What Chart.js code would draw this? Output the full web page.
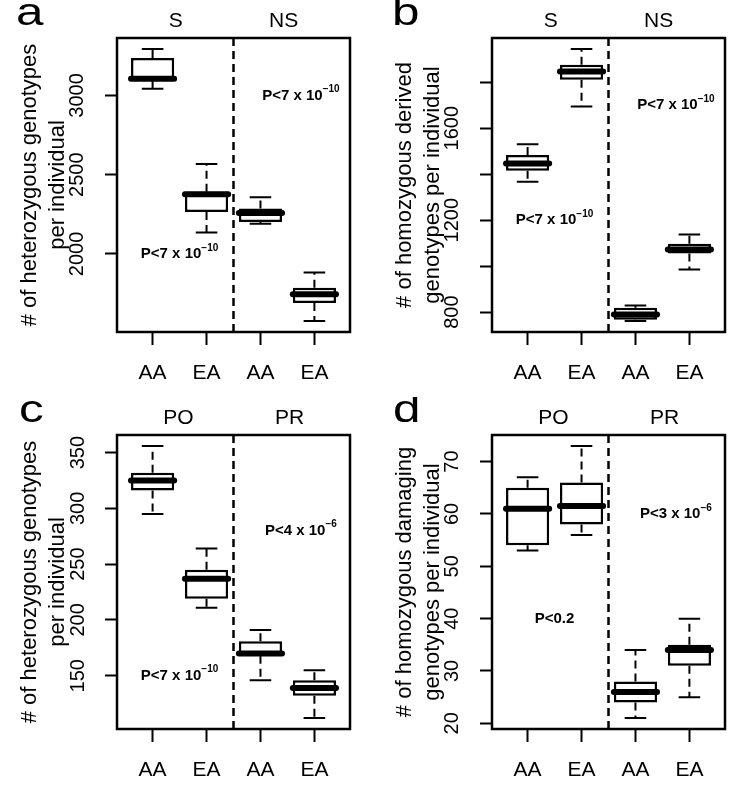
<!DOCTYPE html>
<html>
<head>
<meta charset="utf-8">
<script src="https://cdn.jsdelivr.net/npm/chart.js@4.4.0/dist/chart.umd.min.js"></script>
<style>
  html, body { margin: 0; padding: 0; background: #fff; }
  #wrap { position: relative; width: 750px; height: 794px; }
  canvas { position: absolute; }
</style>
</head>
<body>
<div id="wrap">
  <canvas id="panelA" width="375" height="397" style="left:0;top:0"></canvas>
  <canvas id="panelB" width="375" height="397" style="left:375px;top:0"></canvas>
  <canvas id="panelC" width="375" height="397" style="left:0;top:397px"></canvas>
  <canvas id="panelD" width="375" height="397" style="left:375px;top:397px"></canvas>
</div>
<script>
// box categories
const groups = ["AA", "EA", "AA", "EA"];
const positions = [1, 2, 3, 4];

// a: heterozygous genotypes per individual (S / NS)
const hetLow  = [3042, 2135, 2190, 1576];
const hetQ1   = [3092, 2264, 2202, 1690];
const hetMed  = [3106, 2376, 2259, 1745];
const hetQ3   = [3236, 2393, 2287, 1787];
const hetHigh = [3294, 2568, 2357, 1882];
const hetTicks = [2000, 2500, 3000];
const hetTickLabels = ["2000", "2500", "3000"];

// b: homozygous derived genotypes per individual (S / NS)
const homLow  = [1367, 1694, 761, 985];
const homQ1   = [1415, 1811, 767, 1055];
const homMed  = [1447, 1847, 790, 1072];
const homQ3   = [1484, 1876, 819, 1098];
const homHigh = [1530, 1945, 829, 1138];
const homTicks = [800, 1000, 1200, 1400, 1600, 1800];
const homTickLabels = ["800", "", "1200", "", "1600", ""];

// c: heterozygous genotypes (PO / PR)
const hetPLow  = [295, 211, 146, 112];
const hetPQ1   = [316, 219, 168, 132];
const hetPMed  = [325, 237, 170, 139];
const hetPQ3   = [332, 245, 181, 146];
const hetPHigh = [356, 264, 191, 155];
const hetPTicks = [150, 200, 250, 300, 350];
const hetPTickLabels = ["150", "200", "250", "300", "350"];

// d: homozygous damaging genotypes (PO / PR)
const dmgLow  = [53, 56, 21, 25];
const dmgQ1   = [54, 58, 24, 31];
const dmgMed  = [61, 61.5, 26, 34];
const dmgQ3   = [65, 66, 28, 35];
const dmgHigh = [67, 73, 34, 40];
const dmgTicks = [20, 30, 40, 50, 60, 70];
const dmgTickLabels = ["20", "30", "40", "50", "60", "70"];

const FONT = "'Liberation Sans', Arial, sans-serif";

// R style range: data range plus 4% each side
function rRange(lo, hi) {
  const a = Math.min(...lo), b = Math.max(...hi);
  const pad = (b - a) * 0.04;
  return [a - pad, b + pad];
}
const xRange = rRange([0.5], [4.5]);

const boxPlugin = {
  id: "boxplot",
  beforeDatasetsDraw(chart, args, o) {
    const ctx = chart.ctx, xs = chart.scales.x, ys = chart.scales.y, area = chart.chartArea;
    ctx.save();
    ctx.strokeStyle = "#000";
    ctx.lineWidth = 2.5;
    // separator
    ctx.setLineDash([8, 5]);
    const sx = xs.getPixelForValue(2.5);
    ctx.beginPath();
    ctx.moveTo(sx, area.top);
    ctx.lineTo(sx, area.bottom);
    ctx.stroke();
    // whiskers
    ctx.lineWidth = 2;
    positions.forEach((p, i) => {
      const x = xs.getPixelForValue(p);
      ctx.setLineDash([8, 5]);
      ctx.beginPath();
      ctx.moveTo(x, ys.getPixelForValue(o.q3[i]));
      ctx.lineTo(x, ys.getPixelForValue(o.high[i]));
      ctx.moveTo(x, ys.getPixelForValue(o.q1[i]));
      ctx.lineTo(x, ys.getPixelForValue(o.low[i]));
      ctx.stroke();
      ctx.setLineDash([]);
      const xl = xs.getPixelForValue(p - 0.2), xr = xs.getPixelForValue(p + 0.2);
      ctx.beginPath();
      [o.high[i], o.low[i]].forEach(v => {
        const y = ys.getPixelForValue(v);
        ctx.moveTo(xl, y);
        ctx.lineTo(xr, y);
      });
      ctx.stroke();
    });
    ctx.restore();
  },
  afterDatasetsDraw(chart, args, o) {
    const ctx = chart.ctx, xs = chart.scales.x, ys = chart.scales.y, area = chart.chartArea;
    ctx.save();
    ctx.strokeStyle = "#000";
    // medians
    ctx.lineWidth = 6;
    ctx.lineCap = "round";
    positions.forEach((p, i) => {
      const y = ys.getPixelForValue(o.med[i]);
      ctx.beginPath();
      ctx.moveTo(xs.getPixelForValue(p - 0.4), y);
      ctx.lineTo(xs.getPixelForValue(p + 0.4), y);
      ctx.stroke();
    });
    // frame
    ctx.lineCap = "butt";
    ctx.lineWidth = 2.5;
    ctx.strokeRect(area.left, area.top, area.right - area.left, area.bottom - area.top);
    // p values
    ctx.fillStyle = "#000";
    ctx.textBaseline = "middle";
    o.pvals.forEach(pv => {
      ctx.font = "bold 15px " + FONT;
      const w1 = ctx.measureText(pv.text).width;
      ctx.font = "bold 10px " + FONT;
      const w2 = pv.sup ? ctx.measureText(pv.sup).width : 0;
      const cx = xs.getPixelForValue(pv.x), cy = ys.getPixelForValue(pv.y);
      const x0 = cx - (w1 + w2) / 2;
      ctx.textAlign = "left";
      ctx.font = "bold 15px " + FONT;
      ctx.fillText(pv.text, x0, cy);
      if (pv.sup) {
        ctx.font = "bold 10px " + FONT;
        ctx.fillText(pv.sup, x0 + w1, cy - 6);
      }
    });
    // panel letter
    ctx.font = "38px " + FONT;
    ctx.textBaseline = "alphabetic";
    ctx.translate(o.letterX, 25);
    ctx.scale(1.3, 1);
    ctx.fillText(o.letter, 0, 0);
    ctx.restore();
  }
};

function makePanel(id, cfg) {
  const [ymin, ymax] = rRange(cfg.low, cfg.high);
  new Chart(document.getElementById(id), {
    type: "bar",
    data: {
      datasets: [{
        data: positions.map((p, i) => ({ x: p, y: [cfg.q1[i], cfg.q3[i]] })),
        backgroundColor: "#fff",
        borderColor: "#000",
        borderWidth: 2.5,
        borderSkipped: false,
        barPercentage: 0.8,
        categoryPercentage: 1
      }]
    },
    options: {
      responsive: false,
      animation: false,
      devicePixelRatio: 1,
      layout: { padding: { left: 0, right: 25, top: 0, bottom: 0 } },
      plugins: { legend: { display: false }, tooltip: { enabled: false }, boxplot: cfg },
      scales: {
        x: {
          type: "linear", position: "bottom", offset: false,
          min: xRange[0], max: xRange[1],
          afterBuildTicks: s => { s.ticks = positions.map(v => ({ value: v })); },
          afterFit: s => { s.height = 65; },
          ticks: { callback: (v, i) => groups[i], autoSkip: false, maxRotation: 0,
                   padding: 16, color: "#000", font: { family: FONT, size: 21 } },
          grid: { offset: false, drawOnChartArea: false, tickLength: 13, tickWidth: 2, tickColor: "#000" },
          border: { display: false }
        },
        top: {
          type: "linear", position: "top", axis: "x", offset: false,
          min: xRange[0], max: xRange[1],
          afterBuildTicks: s => { s.ticks = cfg.groupPos.map(v => ({ value: v })); },
          afterFit: s => { s.height = 38; },
          ticks: { callback: (v, i) => cfg.groupLabels[i], autoSkip: false, maxRotation: 0,
                   padding: 4, color: "#000", font: { family: FONT, size: 21 } },
          grid: { display: false, drawTicks: false },
          border: { display: false }
        },
        y: {
          type: "linear", min: ymin, max: ymax,
          afterBuildTicks: s => { s.ticks = cfg.ticks.map(v => ({ value: v })); },
          afterFit: s => { s.width = 117; },
          ticks: { callback: (v, i) => cfg.tickLabels[i], minRotation: 90, maxRotation: 90,
                   crossAlign: "center", padding: cfg.tickPad, color: "#000",
                   font: { family: FONT, size: 20 } },
          grid: { drawOnChartArea: false, tickLength: 12, tickWidth: 2, tickColor: "#000" },
          border: { display: false },
          title: { display: true, text: cfg.title, color: "#000",
                   font: { family: FONT, size: 22, lineHeight: 1.27 },
                   padding: { top: 16, bottom: 0 } }
        }
      }
    },
    plugins: [boxPlugin]
  });
}

makePanel("panelA", {
  low: hetLow, q1: hetQ1, med: hetMed, q3: hetQ3, high: hetHigh,
  ticks: hetTicks, tickLabels: hetTickLabels, tickPad: 5,
  title: ["# of heterozygous genotypes", "per individual"],
  groupLabels: ["S", "NS"], groupPos: [1.43, 3.43],
  pvals: [{ text: "P<7 x 10", sup: "\u221210", x: 1.5, y: 2000 },
          { text: "P<7 x 10", sup: "\u221210", x: 3.75, y: 3000 }],
  letter: "a", letterX: 16
});

makePanel("panelB", {
  low: homLow, q1: homQ1, med: homMed, q3: homQ3, high: homHigh,
  ticks: homTicks, tickLabels: homTickLabels, tickPad: 5,
  title: ["# of homozygous derived", "genotypes per individual"],
  groupLabels: ["S", "NS"], groupPos: [1.43, 3.43],
  pvals: [{ text: "P<7 x 10", sup: "\u221210", x: 1.5, y: 1200 },
          { text: "P<7 x 10", sup: "\u221210", x: 3.75, y: 1700 }],
  letter: "b", letterX: 17
});

makePanel("panelC", {
  low: hetPLow, q1: hetPQ1, med: hetPMed, q3: hetPQ3, high: hetPHigh,
  ticks: hetPTicks, tickLabels: hetPTickLabels, tickPad: 10,
  title: ["# of heterozygous genotypes", "per individual"],
  groupLabels: ["PO", "PR"], groupPos: [1.48, 3.54],
  pvals: [{ text: "P<7 x 10", sup: "\u221210", x: 1.5, y: 150 },
          { text: "P<4 x 10", sup: "\u22126", x: 3.75, y: 280 }],
  letter: "c", letterX: 19
});

makePanel("panelD", {
  low: dmgLow, q1: dmgQ1, med: dmgMed, q3: dmgQ3, high: dmgHigh,
  ticks: dmgTicks, tickLabels: dmgTickLabels, tickPad: 16,
  title: ["# of homozygous damaging", "genotypes per individual"],
  groupLabels: ["PO", "PR"], groupPos: [1.48, 3.54],
  pvals: [{ text: "P<0.2", sup: "", x: 1.5, y: 40 },
          { text: "P<3 x 10", sup: "\u22126", x: 3.75, y: 60 }],
  letter: "d", letterX: 18
});
</script>
</body>
</html>
